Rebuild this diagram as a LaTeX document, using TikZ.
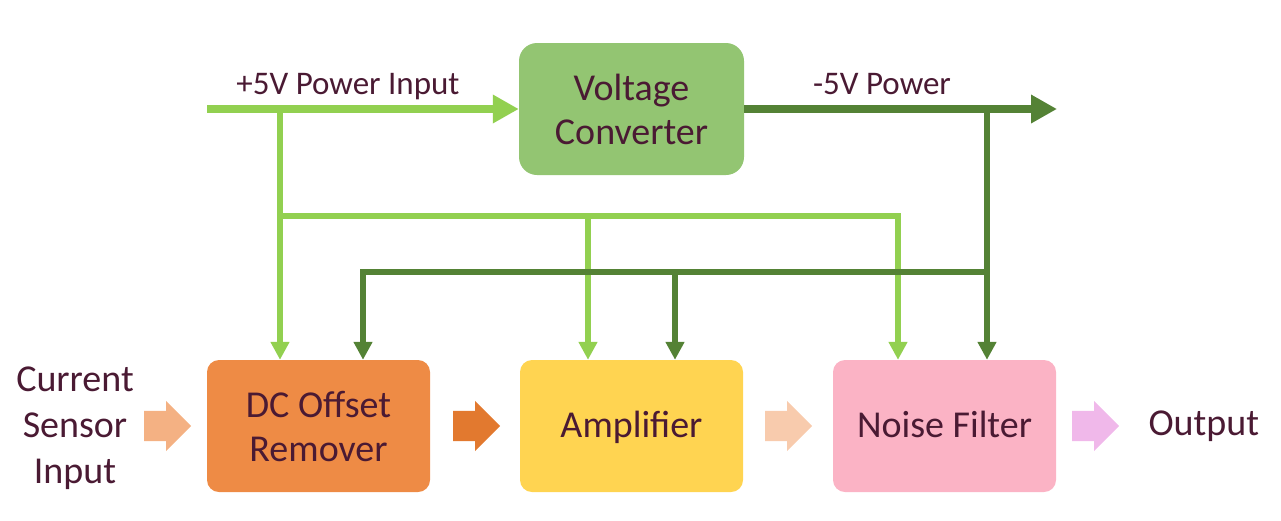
\documentclass[tikz,border=0pt]{standalone}
\usepackage{fontspec}
\setmainfont{Carlito}
\usetikzlibrary{arrows.meta, shapes.arrows}
\definecolor{txt}{HTML}{4A1A33}
\definecolor{lgreen}{HTML}{92D050}
\definecolor{dgreen}{HTML}{548235}
\definecolor{convfill}{HTML}{93C572}
\definecolor{dcfill}{HTML}{EE8B45}
\definecolor{ampfill}{HTML}{FFD451}
\definecolor{nffill}{HTML}{FBB3C5}
\definecolor{arrA}{HTML}{F4B183}
\definecolor{arrB}{HTML}{E2792F}
\definecolor{arrC}{HTML}{F8CBAD}
\definecolor{arrD}{HTML}{F0B8EA}

\begin{document}
\begin{tikzpicture}[x=1pt,y=-1pt,
  block/.style={rectangle,rounded corners=12pt,minimum width=223pt,minimum height=132pt,text=txt,align=center,font=\fontsize{38}{44}\selectfont},
  oneline/.style={text height=26pt,text depth=4pt},
  lbl/.style={text=txt,align=center,font=\fontsize{38}{46}\selectfont},
  toplbl/.style={text=txt,anchor=base,font=\fontsize{33}{40}\selectfont},
  flow/.style={single arrow,single arrow head extend=10pt,minimum width=50pt,minimum height=47pt,inner xsep=0pt,inner ysep=15pt,anchor=tail},
  mainline/.style={line width=8pt,-{Triangle[length=26pt,width=27pt]}},
  feed/.style={line width=6pt,-{Triangle[length=18pt,width=18pt]}}]
\path[use as bounding box] (0,0) rectangle (1281,520);
% Blocs
\node[block,fill=convfill,rounded corners=18pt,minimum width=225pt] (conv) at (631.5,109) {Voltage\\Converter};
\node[block,fill=dcfill] (dc) at (318.5,426) {DC Offset\\Remover};
\node[block,oneline,fill=ampfill] (amp) at (631.5,426) {Amplifier};
\node[block,oneline,fill=nffill] (nf) at (944.5,426) {Noise Filter};
% Points de jonction
\coordinate (pin) at (207,109);
\coordinate (pout) at (1057,109);
\coordinate (lgA) at (280,109);
\coordinate (lgB) at (280,216);
\coordinate (lgC) at (588,216);
\coordinate (lgD) at (898,216);
\coordinate (dgA) at (987,109);
\coordinate (dgB) at (987,272);
\coordinate (dgE) at (363,272);
\coordinate (dgF) at (675,272);
% Alimentation +5V
\draw[feed,lgreen] (lgA) -- (dc.north -| lgA);
\draw[feed,lgreen] (lgB) -- (lgD) -- (nf.north -| lgD);
\draw[feed,lgreen] (lgC) -- (amp.north -| lgC);
% Alimentation -5V
\draw[feed,dgreen] (dgA) -- (nf.north -| dgA);
\draw[feed,dgreen] (dgB) -- (dgE) -- (dc.north -| dgE);
\draw[feed,dgreen] (dgF) -- (amp.north -| dgF);
\draw[mainline,lgreen] (pin) -- (conv);
\draw[mainline,dgreen] (conv) -- (pout);
\node[toplbl] (plus) at (348,94) {+5V Power Input};
\node[toplbl] (minus) at (882,94) {-5V Power};
% Chaine du signal
\node[lbl] (cur) at (75,428) {Current\\Sensor\\Input};
\node[flow,fill=arrA] (f1) at (144,426) {};
\node[flow,fill=arrB] (f2) at (453,426) {};
\node[flow,fill=arrC] (f3) at (765,426) {};
\node[flow,fill=arrD] (f4) at (1072,426) {};
\node[lbl,anchor=west] (out) at (1145,426) {Output};
\end{tikzpicture}
\end{document}
